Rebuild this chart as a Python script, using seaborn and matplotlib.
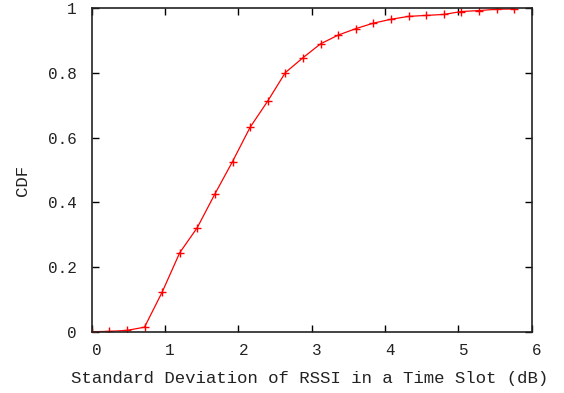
import matplotlib
matplotlib.use("Agg")
import matplotlib.pyplot as plt
import matplotlib.transforms as mtransforms
import seaborn as sns
import pandas as pd

std_db = [0.0, 0.24, 0.48, 0.72, 0.96, 1.2, 1.44, 1.68, 1.92, 2.16, 2.4, 2.64,
          2.88, 3.12, 3.36, 3.6, 3.84, 4.08, 4.32, 4.56, 4.8, 5.04, 5.28, 5.52, 5.76]
cdf = [0.0, 0.001, 0.004, 0.014, 0.122, 0.244, 0.322, 0.426, 0.526, 0.632, 0.713,
       0.801, 0.847, 0.890, 0.917, 0.937, 0.954, 0.966, 0.975, 0.978, 0.981, 0.990,
       0.993, 0.997, 0.998]
x_ticks = [0, 1, 2, 3, 4, 5, 6]
y_ticks = [0, 0.2, 0.4, 0.6, 0.8, 1]
y_tick_labels = ["0", "0.2", "0.4", "0.6", "0.8", "1"]

df = pd.DataFrame({"std": std_db, "cdf": cdf})

sns.set_style("ticks")
plt.rcParams["font.family"] = ["Liberation Mono", "DejaVu Sans Mono"]

fig = plt.figure(figsize=(5.64, 3.93), dpi=100)
ax = fig.add_axes([91.7 / 564, (393 - 331.7) / 393, (531.7 - 91.7) / 564, (331.7 - 8.3) / 393])

sns.lineplot(data=df, x="std", y="cdf", ax=ax, color="#ff0000", linewidth=0.9,
             marker="+", markersize=6, markeredgewidth=1.0, markeredgecolor="#ff0000")

ax.set_xlim(0, 6)
ax.set_ylim(0, 1)
ax.set_xticks(x_ticks)
ax.set_xticklabels([str(t) for t in x_ticks])
ax.set_yticks(y_ticks)
ax.set_yticklabels(y_tick_labels)

ax.tick_params(axis="both", which="major", direction="in", length=5, width=1,
               color="#000000", labelsize=11.5, labelcolor="#222222",
               top=True, right=True)
ax.tick_params(axis="x", pad=8)
ax.tick_params(axis="y", pad=11)

for lab in ax.get_xticklabels():
    lab.set_transform(lab.get_transform() + mtransforms.ScaledTranslation(5 / 100, 0, fig.dpi_scale_trans))

for sp in ax.spines.values():
    sp.set_linewidth(1.2)
    sp.set_color("#222222")

ax.set_xlabel("Standard Deviation of RSSI in a Time Slot (dB)", fontsize=12.5, color="#222222")
ax.set_ylabel("CDF", fontsize=12.5, color="#222222")
ax.xaxis.set_label_coords((309.5 - 91.7) / (531.7 - 91.7), -(378 - 331.7) / (331.7 - 8.3))
ax.yaxis.set_label_coords(-(91.7 - 22) / (531.7 - 91.7), (331.7 - 180) / (331.7 - 8.3))
ax.xaxis.label.set_verticalalignment("center")
ax.yaxis.label.set_verticalalignment("center")

fig.savefig("out.png", dpi=100)
